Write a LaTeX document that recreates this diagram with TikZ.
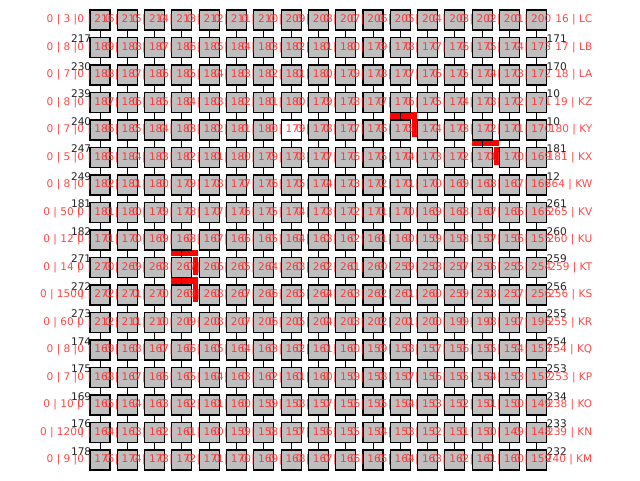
\documentclass[tikz,border=0pt]{standalone}
\usepackage{fontspec}
\setmainfont{DejaVu Sans}
\usetikzlibrary{backgrounds}
\definecolor{cellfill}{RGB}{191,191,191}
\definecolor{tagred}{RGB}{255,40,40}
\definecolor{numgray}{RGB}{35,35,35}

\begin{document}
\begin{tikzpicture}[x=0.25mm,y=-0.25mm,
    cell/.style={draw=black,fill=cellfill,line width=0.75pt,minimum size=5mm,inner sep=0pt},
    link/.style={draw=black,line width=0.6pt},
    tag/.style={text=tagred,text opacity=0.85,font=\fontsize{7.5}{9}\selectfont,inner sep=0pt},
    num/.style={text=numgray,font=\fontsize{7.5}{9}\selectfont,inner sep=0pt},
    hot/.style={fill=red}]
  \useasboundingbox (0,0) rectangle (640,480);
  % cells, 17 rows of 17
  \foreach \r in {0,...,16}
    \foreach \c in {0,...,16}
      \node[cell] (s-\r-\c) at ({100+27.3*\c},{20+27.5*\r}) {};
  \node[cell,fill=white] (blank) at (s-4-7) {};
  \begin{scope}[on background layer]
    % marked links
    \foreach \r/\c in {4/11,5/14,9/3,10/3} {
      \fill[hot] ([yshift=1.75mm]s-\r-\c.north west) rectangle ([xshift=1.5mm,yshift=0.2mm]s-\r-\c.north east);
      \fill[hot] ([xshift=0.2mm]s-\r-\c.north east) rectangle ([xshift=1.5mm,yshift=-4.5mm]s-\r-\c.north east);
    }
    % links between cells
    \foreach \r [evaluate=\r as \rn using int(\r+1)] in {0,...,15}
      \foreach \c in {0,...,16}
        \draw[link] (s-\r-\c.south) -- (s-\rn-\c.north);
    \foreach \r in {0,...,16}
      \foreach \c [evaluate=\c as \cn using int(\c+1)] in {0,...,15}
        \draw[link] (s-\r-\c.north east) -- (s-\r-\cn.north west);
    % counts at the row ends
    \foreach \r/\v in {1/217,2/230,3/239,4/240,5/247,6/249,7/181,8/182,9/271,10/272,11/273,12/174,13/175,14/169,15/176,16/178}
      \node[num,anchor=east] (ln-\r) at ([xshift=0.5mm,yshift=-0.5mm]s-\r-0.north west) {\v};
    \foreach \r/\v in {1/171,2/170,3/10,4/10,5/181,6/12,7/261,8/260,9/259,10/256,11/255,12/254,13/253,14/234,15/233,16/232}
      \node[num,anchor=west] (rn-\r) at ([xshift=-0.25mm,yshift=-0.5mm]s-\r-16.north east) {\v};
  \end{scope}
  % red tags on the cells
  \foreach \r/\b in {0/216,1/189,2/188,3/187,4/186,5/185,6/182,7/181,8/171,9/270,10/272,11/212,12/169,13/168,14/165,15/164,16/175}
    \foreach \c in {0,...,16} {
      \pgfmathtruncatemacro\n{\b-\c}
      \node[tag] (t-\r-\c) at ([xshift=-1mm]s-\r-\c) {0 | \n};
    }
  % row tags
  \foreach \r/\v in {0/3,1/8,2/7,3/8,4/7,5/5,6/8,7/50,8/12,9/14,10/150,11/60,12/8,13/7,14/10,15/120,16/9}
    \node[tag] (lt-\r) at ([xshift=-9.5mm]s-\r-0) {0 | \v\ |};
  \foreach \r/\v in {0/16 | LC,1/17 | LB,2/18 | LA,3/19 | KZ,4/180 | KY,5/181 | KX,6/264 | KW,7/265 | KV,8/260 | KU,9/259 | KT,10/256 | KS,11/255 | KR,12/254 | KQ,13/253 | KP,14/238 | KO,15/239 | KN,16/240 | KM}
    \node[tag,anchor=east] (rt-\r) at ([xshift=11.3mm]s-\r-16.east) {\v};
\end{tikzpicture}
\end{document}
